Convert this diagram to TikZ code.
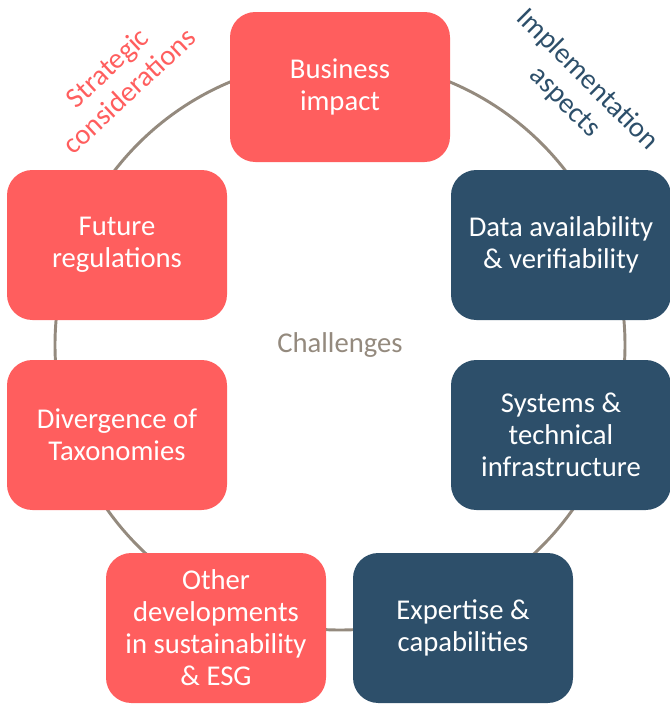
\documentclass[tikz,border=0pt]{standalone}
\usepackage{fontspec}
\setmainfont{Carlito}
\definecolor{koralle}{HTML}{FF5E5E}
\definecolor{nachtblau}{HTML}{2D4F6A}
\definecolor{taupe}{HTML}{948A7E}
\begin{document}
\begin{tikzpicture}[
      x=0.75pt, y=-0.75pt,
      font=\fontsize{21.5}{24}\selectfont,
      box/.style={rounded corners=19pt, minimum width=165pt, minimum height=112.5pt, align=center, text=white, inner sep=2pt},
      rotbox/.style={box, fill=koralle},
      blaubox/.style={box, fill=nachtblau},
      ring/.style={draw=taupe, line width=2.2pt}
    ]
      \useasboundingbox (0,0) rectangle (669,704);
      \coordinate (mitte) at (340,345);
      \draw[ring] (mitte) circle[radius=213.75pt];
      \node[text=taupe] (challenges) at (mitte) {Challenges};
      % Strategische Seite
      \node[rotbox] (impact) at (340,87) {Business\\impact};
      \node[rotbox] (regul) at (117,245) {Future\\regulations};
      \node[rotbox] (taxo) at (117,435) {Divergence of\\Taxonomies};
      \node[rotbox] (esg) at (216,628) {Other\\developments\\in sustainability\\\& ESG};
      % Umsetzungsseite
      \node[blaubox] (daten) at (561,245) {Data availability\\\& verifiability};
      \node[blaubox] (systeme) at (561,435) {Systems \&\\technical\\infrastructure};
      \node[blaubox] (expertise) at (463,628) {Expertise \&\\capabilities};
      \node[text=koralle, rotate=43, align=center] (strateg) at (118,79) {Strategic\\considerations};
      \node[text=nachtblau, rotate=-45, align=center] (umsetz) at (576,91) {Implementation\\aspects};
    \end{tikzpicture}
\end{document}
